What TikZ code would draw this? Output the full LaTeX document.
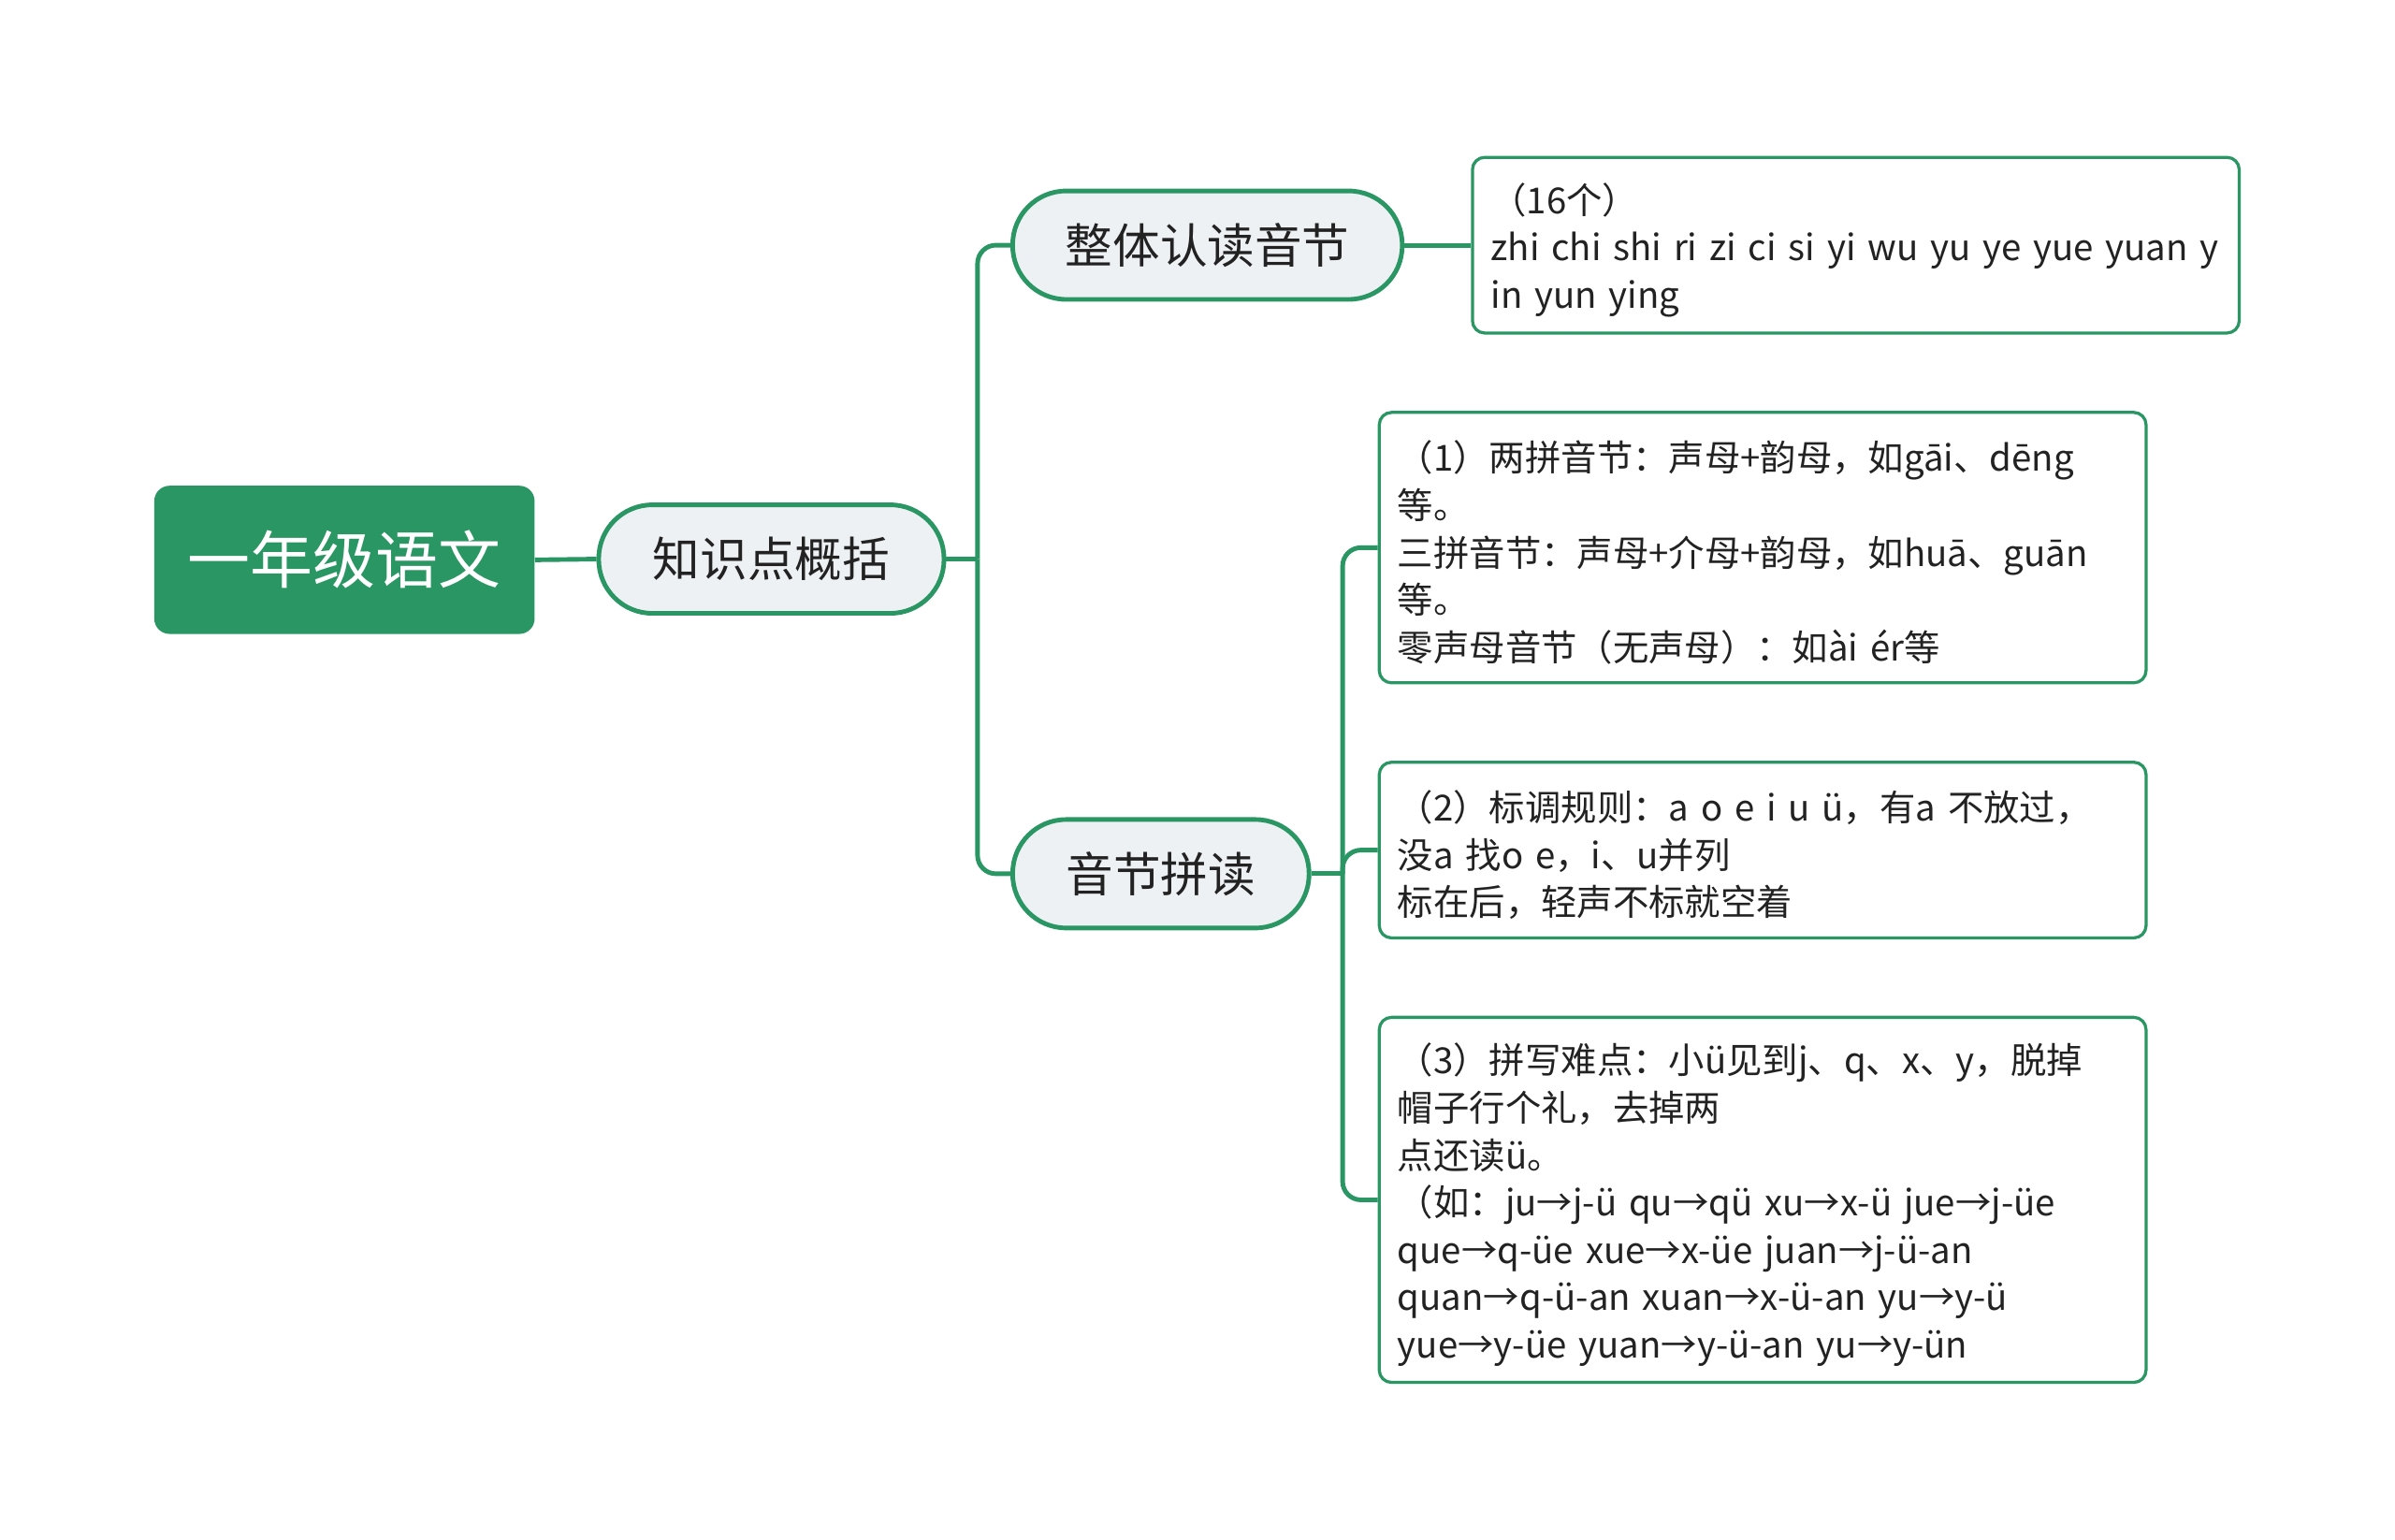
\documentclass[tikz,border=0pt]{standalone}
\usepackage{fontspec}
\setmainfont{Noto Sans CJK SC}
\definecolor{mmgreen}{RGB}{42,150,100}
\definecolor{pillfill}{RGB}{238,241,244}
\definecolor{txt}{RGB}{34,34,34}
\newcommand\fstrut{\rule{0pt}{26.5pt}}
\begin{document}
\begin{tikzpicture}[x=1pt,y=-1pt,
  conn/.style={draw=mmgreen,line width=3pt,rounded corners=12pt},
  rootbox/.style={fill=mmgreen,rounded corners=10pt,minimum width=249pt,minimum height=97pt,
    text=white,font=\fontsize{41}{48}\selectfont,inner sep=0pt},
  pill/.style={draw=mmgreen,line width=3pt,fill=pillfill,rounded corners=35pt,minimum height=71pt,
    text=txt,font=\fontsize{31}{36}\selectfont,inner sep=0pt},
  leaf/.style={draw=mmgreen,line width=2pt,fill=white,rounded corners=8pt,minimum width=502pt,
    text width=478pt,inner xsep=12pt,inner ysep=0pt,align=left,anchor=west,text=txt,
    font=\fontsize{23.5}{31}\selectfont}]
\useasboundingbox (0,0) rectangle (1568,1007.6);
\node[rootbox] (root) at (225.5,366.5) {一年级语文};
\node[pill,minimum width=226pt] (k) at (505,366) {知识点概括};
\node[pill,minimum width=255pt] (z) at (790.5,160.5) {整体认读音节};
\node[pill,minimum width=194pt] (y) at (760,572) {音节拼读};
\node[leaf,minimum height=115pt] (b0) at (963,160.5) {\fstrut（16个）\\zhi chi shi ri zi ci si yi wu yu ye yue yuan y\\in yun ying};
\node[leaf,minimum height=177pt] (b1) at (902,358.5) {\fstrut（1）两拼音节：声母+韵母，如gāi、dēng\\等。\\三拼音节：声母+介母+韵母，如huā、guān\\等。\\零声母音节（无声母）：如ài ér等};
\node[leaf,minimum height=115pt] (b2) at (902,556.5) {\fstrut（2）标调规则：a o e i u ü，有a 不放过，\\没a 找o e，i、u并列\\标在后，轻声不标就空着};
\node[leaf,minimum height=239pt] (b3) at (902,785.5) {\fstrut（3）拼写难点：小ü见到j、q、x、y，脱掉\\帽子行个礼，去掉两\\点还读ü。\\（如：ju→j-ü qu→qü xu→x-ü jue→j-üe\\que→q-üe xue→x-üe juan→j-ü-an\\quan→q-ü-an xuan→x-ü-an yu→y-ü\\yue→y-üe yuan→y-ü-an yu→y-ün};
\coordinate (kj) at (640,366);
\coordinate (yj) at (879,572);
\draw[conn] (root.east) -- (k.west);
\draw[conn] (k.east) -- (kj);
\draw[conn] (kj) |- (z.west);
\draw[conn] (kj) |- (y.west);
\draw[conn] (z.east) -- (b0.west);
\draw[conn] (y.east) -- (yj);
\draw[conn] (yj) |- (b1.west);
\draw[conn] (yj) |- (b2.west);
\draw[conn] (yj) |- (b3.west);
\end{tikzpicture}
\end{document}
